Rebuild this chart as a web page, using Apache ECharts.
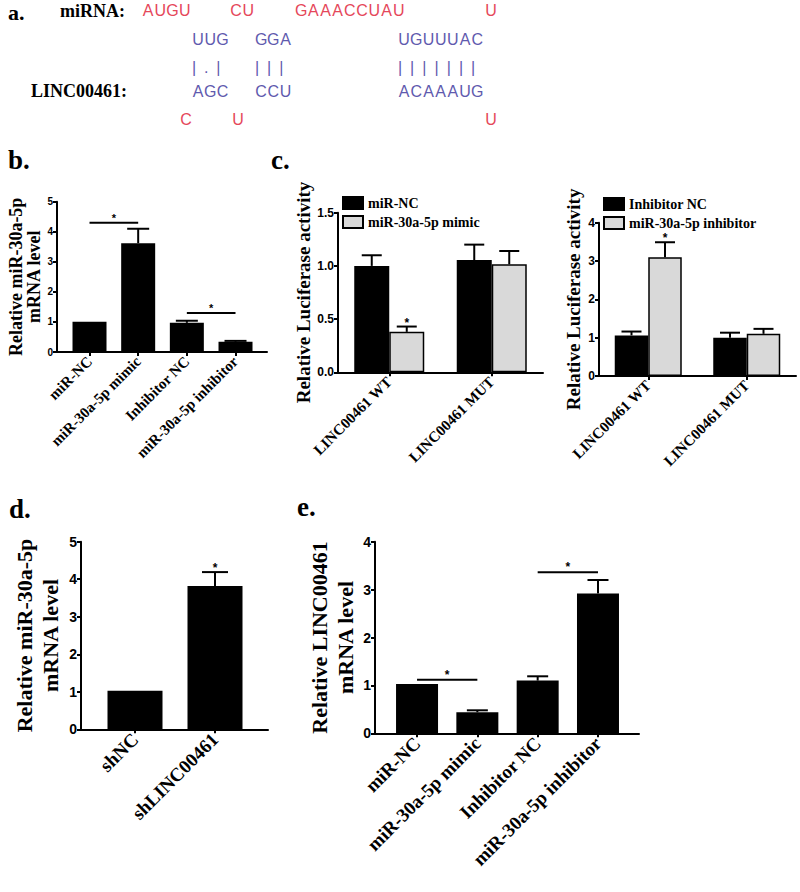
<!DOCTYPE html>
<html><head><meta charset="utf-8">
<script src="https://cdn.jsdelivr.net/npm/echarts@6/dist/echarts.min.js"></script>
<style>html,body{margin:0;padding:0;background:#fff}#c{width:800px;height:892px}</style>
</head><body><div id="c"></div>
<script>
// ---------- Panel a: sequences ----------
const miRNAUnpaired = ['AUGU', 'CU', 'GAAACCUAU', 'U'];
const miRNAPaired = ['UUG', 'GGA', 'UGUUUAC'];
const pairMarks = ['|.|', '|||', '|||||||'];
const lincPaired = ['AGC', 'CCU', 'ACAAAUG'];
const lincUnpaired = ['C', 'U', 'U'];

// ---------- Panel b ----------
const bCats = ['miR-NC', 'miR-30a-5p mimic', 'Inhibitor NC', 'miR-30a-5p inhibitor'];
const bMeans = [1.01, 3.62, 0.97, 0.34];
const bUpper = [1.01, 4.10, 1.04, 0.37];
const bSig = [[0, 1, 4.3], [2, 3, 1.3]];

// ---------- Panel c (left) ----------
const cCats = ['LINC00461 WT', 'LINC00461 MUT'];
const cLeftNames = ['miR-NC', 'miR-30a-5p mimic'];
const cLeftNC = [1.00, 1.055];
const cLeftNCUpper = [1.10, 1.20];
const cLeftMimic = [0.38, 1.015];
const cLeftMimicUpper = [0.43, 1.14];
const cLeftMimicStar = [1, 0];

// ---------- Panel c (right) ----------
const cRightNames = ['Inhibitor NC', 'miR-30a-5p inhibitor'];
const cRightNC = [1.06, 1.00];
const cRightNCUpper = [1.16, 1.13];
const cRightInh = [3.10, 1.10];
const cRightInhUpper = [3.49, 1.23];
const cRightInhStar = [1, 0];

// ---------- Panel d ----------
const dCats = ['shNC', 'shLINC00461'];
const dMeans = [1.03, 3.82];
const dUpper = [1.03, 4.19];
const dStar = [0, 1];

// ---------- Panel e ----------
const eCats = ['miR-NC', 'miR-30a-5p mimic', 'Inhibitor NC', 'miR-30a-5p inhibitor'];
const eMeans = [1.03, 0.44, 1.10, 2.92];
const eUpper = [1.03, 0.48, 1.19, 3.20];
const eSig = [[0, 1, 1.12], [2, 3, 3.36]];

// ---------- style / layout ----------
const SERIF = '"Liberation Serif","Times New Roman",serif';
const SANS = '"Liberation Sans",Arial,sans-serif';
const RED = '#e5475a';
const BLUE = '#5f5aae';

function idx(n) { return Array.from({length: n}, (_, i) => i); }

function xAxisDef(gi, cats, min, max, fs) {
  return {
    type: 'value', gridIndex: gi, min: min, max: max,
    splitLine: {show: false},
    axisLine: {show: true, onZero: false, lineStyle: {color: '#000', width: 2}},
    axisTick: {show: true, customValues: idx(cats.length), length: 4, lineStyle: {color: '#000', width: 2}},
    axisLabel: {
      customValues: idx(cats.length), formatter: v => cats[Math.round(v)] || '',
      rotate: 45, margin: 7, hideOverlap: false,
      fontFamily: SERIF, fontWeight: 'bold', fontSize: fs, color: '#000'
    }
  };
}
function yAxisDef(gi, max, interval, name, nameFs, nameLH, gap, tickFs, dec) {
  return {
    type: 'value', gridIndex: gi, min: 0, max: max, interval: interval,
    name: name, nameLocation: 'middle', nameGap: gap,
    nameTextStyle: {fontFamily: SERIF, fontWeight: 'bold', fontSize: nameFs, lineHeight: nameLH, color: '#000'},
    splitLine: {show: false},
    axisLine: {show: true, onZero: false, lineStyle: {color: '#000', width: 2}},
    axisTick: {show: true, length: 4, lineStyle: {color: '#000', width: 2}},
    axisLabel: {
      margin: 4, fontFamily: SANS, fontWeight: 'bold', fontSize: tickFs, color: '#000',
      formatter: v => dec ? v.toFixed(dec) : String(v)
    }
  };
}

function errRender(offset, capW, starFs) {
  return function (params, api) {
    const x = api.value(0), v = api.value(1), e = api.value(2), s = api.value(3);
    const p0 = api.coord([x, v]);
    const p1 = api.coord([x, e]);
    const cx = p0[0] + offset;
    const ch = [];
    if (e > v) {
      ch.push({type: 'line', shape: {x1: cx, y1: p0[1], x2: cx, y2: p1[1]}, style: {stroke: '#000', lineWidth: 2}});
      ch.push({type: 'line', shape: {x1: cx - capW / 2, y1: p1[1], x2: cx + capW / 2, y2: p1[1]}, style: {stroke: '#000', lineWidth: 2}});
    }
    if (s) {
      ch.push({type: 'text', style: {text: '*', x: cx, y: p1[1] + 2, align: 'center', verticalAlign: 'bottom',
        font: 'bold ' + starFs + 'px ' + SANS, fill: '#000'}});
    }
    return {type: 'group', children: ch};
  };
}
function sigRender(starFs) {
  return function (params, api) {
    const y = api.value(2);
    const p1 = api.coord([api.value(0), y]);
    const p2 = api.coord([api.value(1), y]);
    return {type: 'group', children: [
      {type: 'line', shape: {x1: p1[0], y1: p1[1], x2: p2[0], y2: p2[1]}, style: {stroke: '#000', lineWidth: 2}},
      {type: 'text', style: {text: '*', x: (p1[0] + p2[0]) / 2, y: p1[1] + 1, align: 'center', verticalAlign: 'bottom',
        font: 'bold ' + starFs + 'px ' + SANS, fill: '#000'}}
    ]};
  };
}
function barSeries(name, gi, vals, w, color, border) {
  return {
    name: name, type: 'bar', xAxisIndex: gi, yAxisIndex: gi, barWidth: w, barGap: '0%',
    data: vals.map((v, i) => [i, v]),
    itemStyle: {color: color, borderColor: '#000', borderWidth: border},
    emphasis: {disabled: true}, silent: true
  };
}
function errSeries(gi, means, uppers, stars, offset, capW, starFs) {
  return {
    name: 'err' + gi + '_' + offset, type: 'custom', xAxisIndex: gi, yAxisIndex: gi, z: 5, silent: true,
    renderItem: errRender(offset, capW, starFs),
    encode: {x: 0, y: [1, 2]},
    data: means.map((v, i) => [i, v, uppers[i], stars ? stars[i] : 0])
  };
}
function sigSeries(gi, sig, starFs) {
  return {
    name: 'sig' + gi, type: 'custom', xAxisIndex: gi, yAxisIndex: gi, z: 5, silent: true,
    renderItem: sigRender(starFs),
    encode: {x: [0, 1], y: 2},
    data: sig
  };
}

// ---------- panel a graphics ----------
const graphics = [];
function txt(text, x, y, font, color, align, va) {
  graphics.push({type: 'text', x: x, y: y, style: {text: text, font: font, fill: color, align: align || 'left', verticalAlign: va || 'middle'}});
}
const SEQF = '16px ' + SANS;
const PITCH = 12.2;
function seqGroup(str, x0, y, color, isMark) {
  for (let i = 0; i < str.length; i++) {
    const ch = str[i];
    if (isMark) {
      txt(ch, x0 + i * PITCH + 2, y, SEQF, color, 'center');
    } else {
      txt(ch, x0 + i * PITCH + PITCH / 2, y, SEQF, color, 'center');
    }
  }
}
const rowY = [10.8, 39, 67, 91, 119];
const unpairedTopX = [142, 230, 295, 485];
const pairedX = [192, 255, 398];
const unpairedBotX = [180, 232, 485];
miRNAUnpaired.forEach((s, i) => seqGroup(s, unpairedTopX[i], rowY[0], RED));
miRNAPaired.forEach((s, i) => seqGroup(s, pairedX[i], rowY[1], BLUE));
pairMarks.forEach((s, i) => seqGroup(s, pairedX[i], rowY[2], BLUE, true));
lincPaired.forEach((s, i) => seqGroup(s, pairedX[i], rowY[3], BLUE));
lincUnpaired.forEach((s, i) => seqGroup(s, unpairedBotX[i], rowY[4], RED));
txt('miRNA:', 60, 11, 'bold 18px ' + SERIF, '#000');
txt('LINC00461:', 31, 91, 'bold 18px ' + SERIF, '#000');
// panel letters
const LF = 'bold 27px ' + SERIF;
txt('a.', 8, 1, 'bold 22px ' + SERIF, '#000', 'left', 'top');
txt('b.', 8, 160, LF, '#000');
txt('c.', 271, 160, LF, '#000');
txt('d.', 9, 509, LF, '#000');
txt('e.', 297, 507, LF, '#000');

const legendText = {fontFamily: SERIF, fontWeight: 'bold', fontSize: 14, lineHeight: 13, color: '#000'};
const option = {
  animation: false,
  backgroundColor: '#fff',
  graphic: graphics,
  grid: [
    {left: 57, top: 201.7, width: 210, height: 150.3},
    {left: 338, top: 212.7, width: 205, height: 159.6},
    {left: 599, top: 222.7, width: 197, height: 153.3},
    {left: 81, top: 541.7, width: 187, height: 187.6},
    {left: 375, top: 541.7, width: 264, height: 191.6}
  ],
  legend: [
    {data: cLeftNames, orient: 'vertical', left: 342, top: 196, padding: 0, itemWidth: 20, itemHeight: 12, itemGap: 5, icon: 'rect',
      selectedMode: false, textStyle: legendText},
    {data: cRightNames, orient: 'vertical', left: 603, top: 197, padding: 0, itemWidth: 20, itemHeight: 12, itemGap: 5, icon: 'rect',
      selectedMode: false, textStyle: legendText}
  ],
  xAxis: [
    xAxisDef(0, bCats, -0.668, 3.647, 15),
    xAxisDef(1, cCats, -0.5, 1.5, 15),
    xAxisDef(2, cCats, -0.5, 1.5, 15),
    xAxisDef(3, dCats, -0.675, 1.6625, 19),
    xAxisDef(4, eCats, -0.697, 3.68, 19)
  ],
  yAxis: [
    yAxisDef(0, 5, 1, 'Relative miR-30a-5p\nmRNA level', 18, 18, 14, 10, 0),
    yAxisDef(1, 1.5, 0.5, 'Relative Luciferase activity', 19, 19, 21, 12, 1),
    yAxisDef(2, 4, 1, 'Relative Luciferase activity', 19, 19, 16, 12, 0),
    yAxisDef(3, 5, 1, 'Relative miR-30a-5p\nmRNA level', 22, 26, 18, 14, 0),
    yAxisDef(4, 4, 1, 'Relative LINC00461\nmRNA level', 22, 26, 17, 14, 0)
  ],
  series: [
    barSeries('b', 0, bMeans, 34, '#000', 0),
    errSeries(0, bMeans, bUpper, null, 0, 22, 11),
    sigSeries(0, bSig, 11),

    barSeries(cLeftNames[0], 1, cLeftNC, 35, '#000', 1.5),
    barSeries(cLeftNames[1], 1, cLeftMimic, 35, '#d9d9d9', 1.5),
    errSeries(1, cLeftNC, cLeftNCUpper, null, -17.5, 20, 12),
    errSeries(1, cLeftMimic, cLeftMimicUpper, cLeftMimicStar, 17.5, 20, 12),

    barSeries(cRightNames[0], 2, cRightNC, 33.5, '#000', 1.5),
    barSeries(cRightNames[1], 2, cRightInh, 33.5, '#d9d9d9', 1.5),
    errSeries(2, cRightNC, cRightNCUpper, null, -16.75, 20, 12),
    errSeries(2, cRightInh, cRightInhUpper, cRightInhStar, 16.75, 20, 12),

    barSeries('d', 3, dMeans, 55, '#000', 0),
    errSeries(3, dMeans, dUpper, dStar, 0, 26, 12),

    barSeries('e', 4, eMeans, 42, '#000', 0),
    errSeries(4, eMeans, eUpper, null, 0, 21, 12),
    sigSeries(4, eSig, 12)
  ]
};
const chart = echarts.init(document.getElementById('c'), null, {renderer: 'svg', width: 800, height: 892});
chart.setOption(option);
</script></body></html>
